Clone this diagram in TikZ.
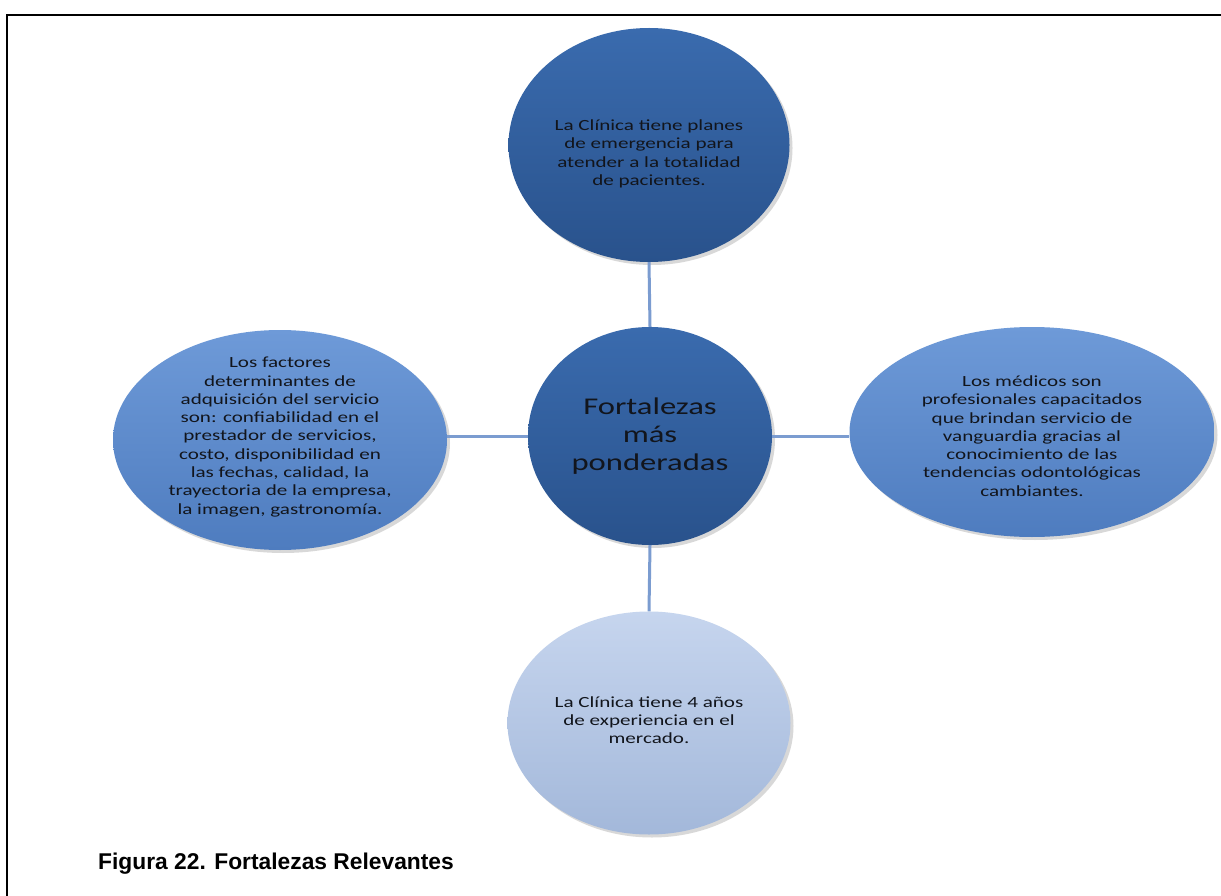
\documentclass[tikz,border=0pt]{standalone}
\usepackage{fontspec}
\setmainfont{Carlito}
\newfontfamily\widefont{Carlito}[FakeStretch=1.36]
\newfontfamily\capfont{Liberation Sans}
\usetikzlibrary{shapes.geometric,shadows}
\definecolor{darkT}{HTML}{3A6BAE}
\definecolor{darkB}{HTML}{29528C}
\definecolor{medT}{HTML}{6E9AD8}
\definecolor{medB}{HTML}{4E7CBF}
\definecolor{lightT}{HTML}{C6D5EE}
\definecolor{lightB}{HTML}{A3B8DA}
\definecolor{conn}{HTML}{7B9CD0}
\definecolor{txtc}{HTML}{12151C}
\begin{document}
\begin{tikzpicture}[x=1pt,y=-1pt,
  bub/.style={ellipse, draw=none, inner sep=0pt, shading=axis,
    drop shadow={shadow xshift=3pt, shadow yshift=-3pt, opacity=0.3}},
  darkbub/.style={bub, top color=darkT, bottom color=darkB},
  medbub/.style={bub, top color=medT, bottom color=medB},
  lightbub/.style={bub, top color=lightT, bottom color=lightB},
  txt/.style={align=center, inner sep=0pt, text=txtc, font=\widefont\fontsize{15.5}{18.3}\selectfont},
  bigtxt/.style={align=center, inner sep=0pt, text=txtc, font=\widefont\fontsize{24}{28}\selectfont},
  link/.style={draw=conn, line width=3pt},
  frame/.style={draw=black, line width=2.2pt}
]
\useasboundingbox (0,0) rectangle (1221,896);
\fill[white] (0,0) rectangle (1221,896);
% frame (top and left edges)
\coordinate (fa) at (1221,15);
\coordinate (fb) at (7,15);
\coordinate (fc) at (7,896);
\draw[frame] (fa) -- (fb) -- (fc);

% bubbles
\node[darkbub, minimum width=281pt, minimum height=234pt] (top) at (649,145) {};
\node[darkbub, minimum width=244pt, minimum height=218pt] (ctr) at (650,436) {};
\node[medbub, minimum width=334pt, minimum height=220pt] (left) at (280,440) {};
\node[medbub, minimum width=365pt, minimum height=210pt] (right) at (1032,432) {};
\node[lightbub, minimum width=283pt, minimum height=223pt] (bot) at (649,723) {};

% connectors
\draw[link] (top.south) -- (ctr.north);
\draw[link] (ctr.south) -- (bot.north);
\draw[link] (left.east |- ctr.west) -- (ctr.west);
\draw[link] (ctr.east) -- (right.west |- ctr.east);

% texts
\node[txt] (ttop) at (649,154) {La Clínica tiene planes\\de emergencia para\\atender a la totalidad\\de pacientes.};
\node[bigtxt] (tctr) at (650,436) {Fortalezas\\más\\ponderadas};
\node[txt] (tleft) at (280,437) {Los factores\\determinantes de\\adquisición del servicio\\son: confiabilidad en el\\prestador de servicios,\\costo, disponibilidad en\\las fechas, calidad, la\\trayectoria de la empresa,\\la imagen, gastronomía.};
\node[txt] (tright) at (1032,436) {Los médicos son\\profesionales capacitados\\que brindan servicio de\\vanguardia gracias al\\conocimiento de las\\tendencias odontológicas\\cambiantes.};
\node[txt] (tbot) at (649,720) {La Clínica tiene 4 años\\de experiencia en el\\mercado.};

% caption
\node[anchor=base west, inner sep=0pt, font=\capfont\bfseries\fontsize{22.8}{26}\selectfont] (cap) at (98,869) {Figura 22. Fortalezas Relevantes};
\end{tikzpicture}
\end{document}
